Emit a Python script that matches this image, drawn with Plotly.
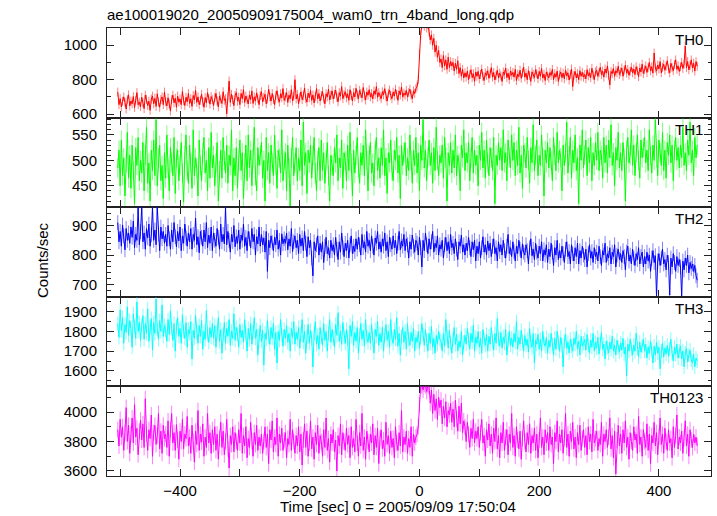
import numpy as np
import plotly.graph_objects as go

# time bins (sec), 2 s spacing, relative to 2005/09/09 17:50:04 ; 485 bins from -504 to 464
time = np.arange(-504, 466, 2)

th0 = [
    728, 655, 690, 642, 675, 700, 668, 630, 684, 712,
    648, 676, 660, 702, 638, 681, 725, 655, 670, 644,
    698, 665, 632, 710, 686, 650, 675, 622, 688, 705,
    660, 692, 645, 718, 670, 640, 685, 700, 655, 728,
    672, 648, 695, 660, 618, 684, 710, 666, 692, 640,
    705, 670, 688, 655, 732, 678, 650, 698, 672, 720,
    662, 690, 645, 708, 684, 738, 668, 700, 655, 680,
    715, 672, 640, 696, 665, 725, 690, 658, 702, 684,
    650, 698, 720, 676, 642, 705, 688, 662, 730, 680,
    690, 602, 700, 792, 668, 715, 685, 650, 708, 725,
    676, 698, 655, 720, 690, 742, 668, 705, 684, 660,
    712, 685, 735, 662, 700, 678, 724, 690, 655, 708,
    730, 672, 698, 715, 660, 688, 745, 700, 676, 720,
    685, 655, 708, 736, 690, 670, 718, 695, 748, 680,
    700, 725, 668, 710, 690, 742, 676, 705, 800, 688,
    715, 660, 698, 730, 684, 706, 752, 690, 670, 722,
    695, 738, 680, 712, 665, 700, 748, 688, 720, 676,
    708, 732, 690, 660, 718, 700, 745, 682, 710, 735,
    688, 715, 740, 698, 672, 725, 705, 760, 690, 712,
    730, 695, 718, 680, 742, 708, 676, 725, 700, 750,
    712, 690, 738, 720, 695, 755, 705, 682, 728, 710,
    742, 700, 720, 688, 735, 715, 760, 698, 725, 705,
    690, 730, 712, 748, 700, 676, 722, 740, 708, 690,
    728, 705, 745, 715, 680, 735, 712, 758, 700, 722,
    710, 738, 700, 725, 745, 712, 690, 735, 720, 748,
    760, 800, 950, 1060, 1120, 1140, 1110, 1150, 1100, 1120,
    1080, 1030, 1060, 1000, 1040, 960, 1000, 930, 970, 900,
    920, 870, 940, 880, 915, 860, 930, 870, 905, 880,
    900, 850, 895, 860, 910, 835, 870, 820, 860, 810,
    840, 815, 850, 800, 830, 858, 812, 835, 790, 845,
    820, 848, 805, 830, 862, 818, 795, 840, 825, 852,
    808, 835, 870, 815, 842, 798, 826, 855, 810, 838,
    822, 790, 845, 830, 868, 812, 838, 800, 850, 826,
    842, 815, 860, 795, 832, 818, 855, 808, 840, 872,
    815, 838, 800, 852, 825, 790, 845, 830, 812, 858,
    835, 805, 848, 820, 865, 810, 832, 795, 845, 822,
    810, 842, 825, 860, 800, 835, 815, 850, 790, 828,
    845, 812, 838, 805, 855, 822, 840, 798, 830, 862,
    760, 825, 848, 810, 835, 800, 852, 820, 842, 815,
    830, 805, 858, 822, 840, 812, 866, 828, 800, 845,
    855, 820, 840, 872, 830, 850, 815, 862, 838, 880,
    825, 770, 848, 835, 865, 820, 852, 840, 878, 830,
    845, 868, 820, 855, 885, 838, 860, 826, 850, 872,
    840, 862, 830, 875, 852, 818, 868, 845, 890, 836,
    858, 880, 842, 870, 900, 852, 875, 838, 955, 868,
    850, 885, 862, 905, 840, 872, 890, 855, 878, 910,
    862, 840, 895, 870, 852, 888, 915, 860, 880, 848,
    875, 900, 865, 890, 995, 870, 905, 858, 882, 915,
    868, 895, 850, 905, 878,
]

th1 = [
    485, 520, 450, 540, 470, 505, 430, 495, 555, 465,
    510, 445, 530, 480, 415, 525, 490, 545, 460, 500,
    475, 535, 440, 510, 565, 455, 495, 420, 520, 480,
    540, 470, 580, 450, 505, 530, 460, 490, 425, 515,
    465, 550, 485, 440, 525, 495, 470, 545, 435, 505,
    520, 460, 490, 535, 475, 418, 510, 550, 480, 455,
    530, 495, 445, 560, 470, 505, 485, 430, 540, 490,
    460, 515, 545, 475, 500, 440, 525, 465, 555, 485,
    510, 450, 495, 535, 420, 480, 520, 465, 545, 500,
    475, 530, 455, 510, 490, 560, 440, 505, 470, 525,
    445, 500, 540, 480, 515, 425, 495, 530, 460, 550,
    485, 520, 450, 505, 565, 470, 440, 525, 490, 510,
    535, 465, 500, 420, 545, 480, 515, 455, 530, 495,
    470, 550, 490, 445, 520, 505, 475, 560, 460, 500,
    515, 440, 530, 485, 410, 505, 545, 470, 495, 525,
    460, 505, 480, 540, 450, 575, 490, 515, 435, 520,
    495, 530, 465, 510, 545, 475, 440, 500, 525, 460,
    540, 480, 515, 455, 500, 535, 470, 420, 510, 490,
    470, 525, 495, 550, 460, 505, 485, 540, 445, 515,
    500, 460, 530, 480, 555, 495, 430, 520, 475, 510,
    545, 485, 455, 515, 490, 530, 470, 560, 500, 440,
    510, 535, 475, 495, 450, 520, 545, 480, 505, 465,
    525, 490, 560, 470, 505, 435, 515, 495, 540, 480,
    460, 520, 500, 545, 475, 510, 425, 530, 490, 515,
    535, 470, 505, 480, 550, 500, 455, 520, 490, 545,
    475, 515, 440, 530, 500, 580, 485, 520, 460, 505,
    540, 490, 515, 455, 525, 480, 565, 500, 470, 510,
    495, 530, 465, 545, 505, 420, 515, 490, 535, 475,
    520, 485, 550, 470, 510, 495, 440, 530, 505, 560,
    480, 515, 495, 535, 460, 505, 545, 475, 520, 490,
    510, 450, 530, 500, 555, 485, 520, 465, 540, 495,
    470, 525, 505, 480, 545, 415, 510, 490, 535, 500,
    525, 480, 560, 495, 515, 460, 540, 505, 485, 550,
    500, 535, 470, 520, 490, 565, 475, 510, 445, 530,
    515, 485, 545, 500, 455, 525, 495, 570, 480, 510,
    540, 470, 510, 490, 550, 505, 430, 520, 495, 535,
    485, 525, 500, 460, 545, 510, 480, 555, 495, 520,
    505, 440, 530, 490, 515, 575, 475, 510, 545, 465,
    520, 495, 550, 480, 505, 415, 530, 500, 560, 485,
    510, 540, 470, 525, 495, 545, 460, 515, 490, 535,
    500, 555, 480, 520, 510, 465, 545, 495, 530, 475,
    540, 505, 570, 490, 515, 450, 525, 500, 555, 485,
    515, 480, 535, 505, 420, 520, 545, 495, 510, 560,
    490, 530, 470, 515, 550, 500, 465, 540, 505, 525,
    545, 495, 520, 480, 560, 510, 475, 530, 500, 580,
    505, 470, 540, 515, 490, 555, 480, 520, 465, 535,
    510, 550, 495, 530, 460, 520, 545, 500, 525, 485,
    530, 505, 565, 490, 515, 480, 540, 510, 575, 495,
    520, 470, 545, 505, 530,
]

th2 = [
    910, 845, 880, 830, 902, 865, 818, 890, 850, 875,
    840, 895, 860, 915, 825, 870, 850, 962, 835, 880,
    962, 845, 875, 820, 890, 858, 905, 830, 868, 962,
    850, 885, 835, 962, 870, 815, 895, 855, 880, 840,
    870, 830, 900, 855, 820, 885, 845, 910, 862, 828,
    880, 848, 895, 815, 865, 840, 905, 858, 830, 875,
    845, 890, 820, 870, 850, 925, 835, 862, 808, 880,
    860, 830, 885, 845, 910, 825, 868, 840, 895, 815,
    875, 850, 830, 890, 860, 820, 905, 845, 870, 838,
    962, 835, 880, 850, 810, 870, 845, 900, 828, 862,
    840, 885, 820, 868, 850, 905, 830, 860, 815, 880,
    855, 825, 890, 845, 870, 800, 862, 838, 895, 830,
    870, 835, 858, 810, 880, 745, 850, 825, 865, 842,
    815, 860, 835, 885, 820, 850, 800, 872, 838, 855,
    840, 875, 818, 855, 830, 890, 812, 845, 865, 825,
    850, 805, 870, 830, 858, 815, 880, 840, 795, 862,
    825, 850, 790, 730, 845, 815, 835, 865, 800, 840,
    810, 845, 775, 830, 860, 805, 825, 790, 850, 815,
    835, 800, 860, 820, 785, 845, 810, 875, 825, 795,
    840, 815, 850, 790, 835, 865, 805, 830, 812, 855,
    820, 860, 835, 800, 870, 825, 845, 810, 880, 830,
    850, 815, 865, 830, 800, 858, 840, 880, 820, 845,
    810, 855, 830, 875, 815, 845, 795, 860, 835, 820,
    865, 825, 850, 805, 840, 880, 818, 848, 830, 870,
    815, 855, 835, 790, 845, 820, 868, 830, 810, 850,
    840, 800, 860, 825, 760, 850, 815, 875, 835, 805,
    855, 820, 845, 880, 810, 840, 825, 865, 800, 835,
    820, 850, 790, 835, 860, 815, 845, 805, 870, 825,
    840, 805, 855, 820, 785, 845, 830, 868, 810, 835,
    800, 840, 815, 860, 825, 795, 845, 818, 850, 780,
    830, 805, 845, 790, 825, 862, 810, 835, 800, 848,
    815, 840, 795, 830, 855, 805, 825, 780, 845, 812,
    835, 800, 850, 815, 790, 830, 870, 805, 825, 795,
    845, 812, 780, 830, 805, 850, 820, 790, 838, 810,
    800, 835, 815, 770, 825, 855, 798, 820, 785, 840,
    810, 790, 830, 805, 845, 780, 818, 800, 835, 775,
    820, 795, 840, 810, 765, 825, 800, 850, 785, 815,
    790, 830, 805, 775, 820, 845, 795, 812, 770, 835,
    805, 780, 825, 795, 840, 770, 815, 790, 830, 800,
    785, 820, 760, 805, 835, 790, 812, 775, 825, 795,
    810, 780, 830, 795, 765, 815, 800, 840, 775, 805,
    790, 825, 770, 810, 795, 835, 760, 800, 820, 785,
    805, 775, 815, 795, 750, 810, 830, 780, 800, 770,
    820, 790, 765, 805, 785, 825, 770, 795, 810, 760,
    795, 770, 810, 780, 800, 745, 790, 815, 775, 798,
    660, 780, 805, 765, 790, 820, 770, 785, 750, 800,
    775, 665, 790, 760, 805, 775, 745, 795, 765, 785,
    760, 662, 780, 750, 790, 765, 800, 740, 775, 755,
    770, 745, 765, 730, 715,
]

th3 = [
    1840, 1770, 1910, 1805, 1870, 1740, 1835, 1795, 1925, 1780,
    1855, 1815, 1720, 1890, 1825, 1765, 1950, 1800, 1845, 1755,
    1830, 1880, 1760, 1840, 1790, 1915, 1750, 1820, 1865, 1705,
    1845, 1790, 1965, 1810, 1760, 1855, 1800, 1935, 1775, 1830,
    1805, 1750, 1860, 1785, 1905, 1815, 1755, 1840, 1700, 1825,
    1870, 1775, 1815, 1740, 1885, 1800, 1765, 1845, 1720, 1810,
    1790, 1850, 1660, 1805, 1765, 1880, 1795, 1740, 1830, 1775,
    1855, 1710, 1800, 1760, 1905, 1785, 1745, 1820, 1770, 1840,
    1765, 1830, 1720, 1795, 1870, 1750, 1810, 1690, 1785, 1845,
    1740, 1815, 1775, 1860, 1730, 1800, 1765, 1890, 1755, 1820,
    1785, 1720, 1835, 1770, 1805, 1745, 1860, 1790, 1700, 1815,
    1760, 1840, 1735, 1795, 1870, 1765, 1810, 1680, 1780, 1830,
    1750, 1805, 1630, 1790, 1760, 1855, 1775, 1735, 1820, 1765,
    1840, 1710, 1795, 1640, 1800, 1755, 1860, 1780, 1725, 1810,
    1765, 1830, 1745, 1790, 1700, 1815, 1770, 1850, 1735, 1795,
    1760, 1820, 1715, 1785, 1860, 1745, 1800, 1690, 1775, 1835,
    1740, 1805, 1765, 1620, 1790, 1850, 1735, 1780, 1710, 1820,
    1770, 1730, 1840, 1755, 1800, 1700, 1790, 1860, 1745, 1810,
    1765, 1720, 1835, 1780, 1895, 1750, 1800, 1735, 1845, 1770,
    1740, 1810, 1765, 1610, 1830, 1775, 1850, 1730, 1795, 1750,
    1820, 1690, 1780, 1840, 1760, 1805, 1725, 1860, 1770, 1745,
    1795, 1740, 1835, 1760, 1690, 1810, 1775, 1850, 1730, 1790,
    1745, 1820, 1700, 1780, 1835, 1755, 1800, 1720, 1860, 1765,
    1740, 1810, 1760, 1870, 1725, 1790, 1680, 1775, 1820, 1745,
    1800, 1710, 1840, 1760, 1730, 1795, 1750, 1815, 1700, 1770,
    1745, 1800, 1715, 1770, 1840, 1785, 1730, 1810, 1755, 1700,
    1790, 1740, 1825, 1720, 1765, 1690, 1780, 1735, 1800, 1760,
    1750, 1700, 1790, 1725, 1860, 1770, 1715, 1805, 1740, 1690,
    1760, 1820, 1735, 1785, 1700, 1750, 1720, 1800, 1680, 1745,
    1780, 1735, 1815, 1760, 1710, 1790, 1745, 1830, 1700, 1770,
    1740, 1800, 1720, 1765, 1690, 1810, 1755, 1730, 1785, 1700,
    1775, 1735, 1820, 1750, 1705, 1790, 1740, 1865, 1760, 1725,
    1795, 1715, 1770, 1740, 1810, 1680, 1755, 1800, 1730, 1765,
    1720, 1790, 1745, 1850, 1710, 1770, 1735, 1805, 1750, 1700,
    1780, 1730, 1760, 1695, 1815, 1745, 1720, 1790, 1640, 1755,
    1735, 1785, 1710, 1760, 1700, 1800, 1740, 1725, 1770, 1690,
    1755, 1720, 1790, 1735, 1680, 1765, 1710, 1800, 1745, 1700,
    1770, 1730, 1620, 1750, 1785, 1715, 1745, 1690, 1760, 1725,
    1700, 1765, 1735, 1800, 1710, 1750, 1680, 1775, 1725, 1740,
    1760, 1705, 1785, 1730, 1690, 1755, 1720, 1790, 1700, 1745,
    1715, 1770, 1685, 1740, 1795, 1710, 1735, 1660, 1750, 1720,
    1690, 1745, 1710, 1775, 1700, 1730, 1680, 1755, 1720, 1695,
    1740, 1705, 1765, 1685, 1720, 1575, 1735, 1700, 1760, 1710,
    1680, 1730, 1700, 1790, 1715, 1670, 1745, 1695, 1725, 1760,
    1700, 1735, 1665, 1720, 1690, 1750, 1705, 1640, 1725, 1680,
    1745, 1690, 1720, 1610, 1700, 1740, 1670, 1715, 1685, 1730,
    1675, 1710, 1760, 1690, 1650, 1720, 1685, 1735, 1665, 1700,
    1725, 1660, 1700, 1620, 1690, 1715, 1645, 1680, 1705, 1655,
    1640, 1685, 1620, 1665, 1650,
]

th0123 = [
    3880, 3770, 3950, 3830, 3900, 3740, 3860, 4030, 3800, 3910,
    3720, 3850, 3960, 3790, 4050, 3830, 3890, 3710, 3870, 3945,
    3810, 3920, 3760, 4090, 3850, 3740, 3880, 3820, 3980, 3700,
    3860, 3910, 3780, 3840, 3990, 3750, 3870, 3720, 3910, 3820,
    3850, 3760, 3940, 3700, 3880, 3990, 3790, 3860, 3740, 3915,
    3810, 3680, 3870, 3800, 3950, 3750, 3850, 3820, 3970, 3770,
    3830, 3720, 3910, 3800, 3660, 3870, 3780, 4010, 3740, 3850,
    3795, 3920, 3700, 3830, 3760, 3990, 3790, 3860, 3720, 3880,
    3780, 3900, 3740, 3850, 3680, 3820, 3930, 3760, 3870, 3710,
    3800, 3950, 3750, 3620, 3840, 3780, 3900, 3730, 3860, 3800,
    3740, 3880, 3790, 3990, 3720, 3840, 3770, 3900, 3690, 3820,
    3760, 3930, 3800, 3700, 3860, 3780, 3910, 3740, 3830, 3770,
    3850, 3720, 3800, 3900, 3760, 3850, 3650, 3880, 3810, 3940,
    3730, 3830, 3780, 3960, 3700, 3850, 3790, 3890, 3740, 3810,
    3860, 3690, 3820, 3780, 3950, 3740, 3880, 3800, 3720, 3840,
    3770, 3900, 3730, 3850, 3640, 3810, 3920, 3760, 3870, 3700,
    3790, 3940, 3750, 3830, 3680, 3860, 3780, 3910, 3720, 3840,
    3800, 3700, 3880, 3760, 3960, 3740, 3820, 3660, 3850, 3790,
    3880, 3730, 3810, 3600, 3840, 3770, 3920, 3710, 3860, 3800,
    3740, 3890, 3780, 3840, 3690, 3900, 3760, 3820, 3730, 3950,
    3790, 3700, 3860, 3770, 3990, 3740, 3830, 3680, 3870, 3800,
    3730, 3850, 3790, 3920, 3710, 3840, 3760, 3890, 3650, 3820,
    3880, 3750, 3810, 3700, 3930, 3780, 3840, 3720, 3870, 3760,
    3820, 3690, 3900, 3790, 3740, 3860, 3770, 4010, 3730, 3830,
    3780, 3870, 3720, 3820, 3760, 3900, 3700, 3850, 3790, 3830,
    3850, 3900, 4050, 4180, 4180, 4150, 4190, 4180, 4140, 4180,
    4174, 4060, 4150, 3990, 4120, 4010, 4090, 3950, 4100, 4030,
    4080, 3920, 4040, 3960, 4070, 3900, 4010, 3980, 4060, 3930,
    4020, 3900, 4080, 3950, 3870, 4040, 3920, 4060, 3860, 3940,
    3900, 3800, 3930, 3850, 3760, 3890, 3820, 3950, 3790, 3870,
    3820, 3900, 3760, 3860, 3950, 3790, 3840, 3700, 3880, 3810,
    3920, 3770, 3850, 3720, 3890, 3800, 3960, 3750, 3840, 3690,
    3860, 3790, 3930, 3740, 3830, 3880, 3710, 3850, 3790, 3990,
    3760, 3840, 3700, 3900, 3810, 3750, 3870, 3680, 3820, 3940,
    3800, 3730, 3860, 3780, 3920, 3720, 3840, 3790, 3890, 3740,
    3850, 3690, 3810, 3960, 3760, 3830, 3710, 3880, 3790, 3860,
    3740, 3900, 3780, 3830, 3650, 3860, 3800, 3940, 3730, 3850,
    3790, 3880, 3720, 3820, 3990, 3760, 3850, 3700, 3870, 3800,
    3930, 3750, 3830, 3690, 3860, 3780, 3910, 3740, 3820, 3880,
    3760, 3840, 3710, 3900, 3800, 3850, 3730, 3950, 3790, 3820,
    3870, 3740, 3820, 3780, 3930, 3700, 3850, 3800, 3880, 3760,
    3830, 3960, 3750, 3840, 3690, 3870, 3580, 3810, 3910, 3770,
    3850, 3720, 3880, 3790, 3940, 3760, 3830, 3680, 3860, 3800,
    3740, 3900, 3810, 3850, 3720, 3970, 3780, 3830, 3700, 3880,
    3800, 3760, 3920, 3740, 3850, 3650, 3840, 3790, 3930, 3770,
    3860, 3710, 3830, 3960, 3780, 3850, 3720, 3890, 3800, 3740,
    3880, 3790, 3820, 3690, 3900, 3760, 3840, 3980, 3750, 3830,
    3790, 3870, 3720, 3820, 3940, 3770, 3850, 3700, 3880, 3810,
    3760, 3850, 3790, 3830, 3770,
]

band_names = ["TH0", "TH1", "TH2", "TH3", "TH0123"]
band_errors = [26, 19, 25, 36, 54]  # typical 1-sigma error bar (counts/sec)

x_tickvals = [-500, -400, -300, -200, -100, 0, 100, 200, 300, 400]
x_ticktext = ["", "\u2212400", "", "\u2212200", "", "0", "", "200", "", "400"]

series = [th0, th1, th2, th3, th0123]
colors = ["#ff0000", "#00ff00", "#0000ff", "#00ffff", "#ff00ff"]
err_colors = ["rgba(255,0,0,0.5)", "rgba(0,255,0,0.5)", "rgba(0,0,255,0.5)",
              "rgba(0,255,255,0.5)", "rgba(255,0,255,0.5)"]
y_ranges = [[580, 1100], [408, 584], [659, 962], [1521, 1976], [3566, 4174]]
y_dtick = [200, 50, 100, 100, 200]
y_minor = [100, 10, 20, 50, 100]

FONT = "Liberation Sans, Arial, Helvetica, sans-serif"

fig = go.Figure()
n = 5
for i in range(n):
    k = i + 1
    vals = series[i]
    m = min(len(vals), len(time))
    fig.add_trace(go.Scatter(
        x=time[:m], y=vals[:m], mode="lines",
        line=dict(color=colors[i], width=1),
        error_y=dict(type="constant", value=band_errors[i], color=err_colors[i],
                     thickness=1, width=0),
        xaxis="x" if k == 1 else f"x{k}", yaxis="y" if k == 1 else f"y{k}",
        showlegend=False, hoverinfo="skip",
    ))

layout = dict(
    width=717, height=516,
    margin=dict(l=107, r=6, t=28, b=40),
    paper_bgcolor="white", plot_bgcolor="white",
    font=dict(family=FONT, size=15, color="black"),
    title=dict(text="ae100019020_20050909175004_wam0_trn_4band_long.qdp",
               x=0, xref="paper", xanchor="left",
               y=1 - 15 / 516, yref="container", yanchor="middle",
               font=dict(family=FONT, size=15, color="black")),
    showlegend=False,
)

axis_line = dict(showline=True, linecolor="#222222", linewidth=1, mirror="ticks",
                 showgrid=False, zeroline=False, ticks="inside", tickcolor="#222222")

annotations = []
for i in range(n):
    k = i + 1
    xs = "x" if k == 1 else f"x{k}"
    ys = "y" if k == 1 else f"y{k}"
    top = 1 - i / n
    bot = 1 - (i + 1) / n
    xa = dict(axis_line, domain=[0, 1], anchor=ys, range=[-522, 487],
              tickmode="array", tickvals=x_tickvals, ticktext=x_ticktext,
              ticklen=7, tickwidth=1.2,
              showticklabels=(k == n), ticklabelstandoff=1,
              tickfont=dict(family=FONT, size=15, color="black"))
    if k > 1:
        xa["matches"] = "x"
    ya = dict(axis_line, domain=[bot, top], anchor=xs, range=y_ranges[i],
              dtick=y_dtick[i], tick0=0, ticklen=7, tickwidth=1.2,
              minor=dict(dtick=y_minor[i], tick0=0, ticks="inside", ticklen=3.5,
                         tickcolor="#222222", tickwidth=1, showgrid=False),
              ticklabelstandoff=6,
              tickfont=dict(family=FONT, size=15, color="black"))
    layout["xaxis" if k == 1 else f"xaxis{k}"] = xa
    layout["yaxis" if k == 1 else f"yaxis{k}"] = ya
    annotations.append(dict(text=band_names[i], xref="paper", x=1, xshift=-6,
                            xanchor="right", yref=f"{ys} domain", y=1, yanchor="top",
                            yshift=-1, showarrow=False,
                            font=dict(family=FONT, size=15, color="black")))

annotations.append(dict(text="Counts/sec", xref="paper", x=(42 - 107) / 604, xanchor="center",
                        yref="paper", y=1 - (260 - 28) / 448, yanchor="middle", textangle=-90,
                        showarrow=False, font=dict(family=FONT, size=15, color="black")))
annotations.append(dict(text="Time [sec] 0 = 2005/09/09 17:50:04", xref="paper",
                        x=(398 - 107) / 604, xanchor="center",
                        yref="paper", y=-(506 - 476) / 448, yanchor="middle",
                        showarrow=False, font=dict(family=FONT, size=15, color="black")))
layout["annotations"] = annotations

fig.update_layout(**layout)
fig.write_html("out.html", config={"displayModeBar": False},
               post_script="document.body.style.margin='0px';")
